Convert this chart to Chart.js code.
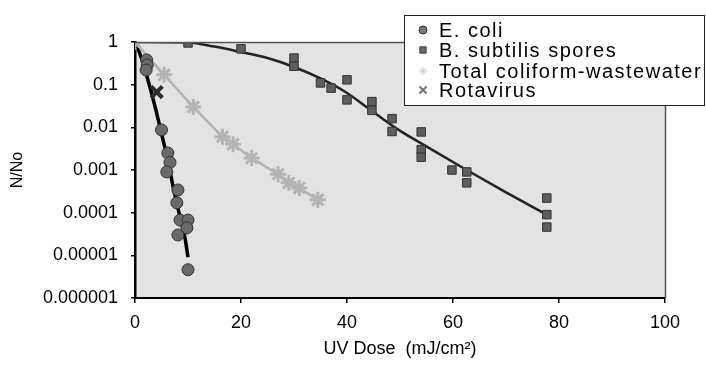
<!DOCTYPE html>
<html>
<head>
<meta charset="utf-8">
<script src="https://cdn.jsdelivr.net/npm/chart.js@4/dist/chart.umd.min.js"></script>
<style>
  html, body { margin: 0; padding: 0; background: #fff; }
  #wrap { width: 706px; height: 365px; }
</style>
</head>
<body>
<div id="wrap"><canvas id="uvChart" width="706" height="365"></canvas></div>
<script>
// values
const ecoliDose = [2.2, 2.3, 2.1, 5, 6.2, 6.6, 6, 8.1, 7.9, 8.5, 10, 9.8, 8.1, 10];
const ecoliNNo = [0.38, 0.29, 0.22, 0.0087, 0.0025, 0.0015, 0.0009, 0.00034, 0.00017, 0.000067, 0.000067, 0.000044, 0.00003, 0.0000046];
const ecoliFitDose = [0, 1, 2, 3.8, 5.3, 6.3, 7.2, 8.3, 9.4, 10];
const ecoliFitNNo = [1, 0.5, 0.2, 0.03, 0.005, 0.0015, 0.0004, 0.0001, 0.000027, 0.000009];

const bsubDose = [10, 20, 30, 30, 35, 37, 40, 40, 44.7, 44.7, 48.5, 48.5, 54, 54, 54, 59.8, 62.6, 62.6, 77.7, 77.7, 77.7];
const bsubNNo = [0.95, 0.69, 0.42, 0.27, 0.11, 0.083, 0.13, 0.044, 0.04, 0.025, 0.016, 0.008, 0.0078, 0.003, 0.002, 0.001, 0.0009, 0.0005, 0.00022, 0.00009, 0.000046];
const bsubFitDose = [0, 10, 15, 20, 25, 30, 35, 40, 44, 49, 54, 62, 70, 78];
const bsubFitNNo = [1, 0.97, 0.78, 0.58, 0.42, 0.26, 0.14, 0.064, 0.028, 0.01, 0.0042, 0.0011, 0.0003, 0.000085];

const coliformDose = [0, 5.5, 11, 16.5, 18.5, 22, 27, 29, 31, 34.5];
const coliformNNo = [1, 0.17, 0.03, 0.006, 0.004, 0.0019, 0.0008, 0.0005, 0.00038, 0.0002];

const rotaDose = [4.1];
const rotaNNo = [0.067];

const yTicks = [1, 0.1, 0.01, 0.001, 0.0001, 0.00001, 0.000001];
const yTickLabels = ["1", "0.1", "0.01", "0.001", "0.0001", "0.00001", "0.000001"];

const seriesNames = ["E. coli", "B. subtilis spores", "Total coliform-wastewater", "Rotavirus"];

const pts = (xs, ys) => xs.map((x, i) => ({ x, y: ys[i] }));
const FONT = "'Liberation Sans', Arial, sans-serif";

const plotBack = {
  id: "plotBack",
  beforeDraw(chart) {
    const { ctx, chartArea: a } = chart;
    ctx.save();
    ctx.fillStyle = "#e3e3e3";
    ctx.fillRect(a.left, a.top, a.right - a.left, a.bottom - a.top);
    ctx.restore();
  },
  afterDraw(chart) {
    const { ctx, chartArea: a } = chart;
    ctx.save();
    ctx.strokeStyle = "#555";
    ctx.lineWidth = 1.5;
    ctx.beginPath();
    ctx.moveTo(a.left, a.top + 0.5);
    ctx.lineTo(a.right + 0.5, a.top + 0.5);
    ctx.lineTo(a.right + 0.5, a.bottom);
    ctx.stroke();

    // legend box, drawn over the plot like the original
    const bx = 404.5, by = 15.5, bw = 300, bh = 90;
    ctx.fillStyle = "#fff";
    ctx.fillRect(bx, by, bw, bh);
    ctx.strokeStyle = "#222";
    ctx.lineWidth = 1;
    ctx.strokeRect(bx, by, bw, bh);
    const rowY = [30, 50, 71, 90];
    const marks = [
      { pointStyle: "circle", radius: 4, rotation: 0, borderWidth: 1, fill: "#777", stroke: "#333" },
      { pointStyle: "rect", radius: 4.5, rotation: 0, borderWidth: 1, fill: "#666", stroke: "#444" },
      { pointStyle: "star", radius: 4, rotation: 0, borderWidth: 1, fill: "#eee", stroke: "#ccc" },
      { pointStyle: "crossRot", radius: 5, rotation: 0, borderWidth: 2, fill: "#888", stroke: "#777" }
    ];
    ctx.font = "20px " + FONT;
    ctx.textBaseline = "middle";
    ctx.textAlign = "left";
    if ("letterSpacing" in ctx) ctx.letterSpacing = "1.5px";
    seriesNames.forEach((name, i) => {
      const m = marks[i];
      ctx.fillStyle = m.fill;
      ctx.strokeStyle = m.stroke;
      ctx.lineWidth = m.borderWidth;
      Chart.helpers.drawPoint(ctx, m, 423, rowY[i]);
      ctx.fillStyle = "#000";
      ctx.fillText(name, 439, rowY[i] + 1);
    });
    ctx.restore();
  }
};

new Chart(document.getElementById("uvChart"), {
  type: "scatter",
  data: {
    datasets: [
      { label: seriesNames[3], data: pts(rotaDose, rotaNNo), pointStyle: "crossRot",
        pointRadius: 8, pointBorderWidth: 4, borderColor: "#2a2a2a", backgroundColor: "#2a2a2a", order: 1 },
      { label: seriesNames[0], data: pts(ecoliDose, ecoliNNo), pointStyle: "circle",
        pointRadius: 6, pointBorderWidth: 1, borderColor: "#333", backgroundColor: "#6a6a6a", order: 2 },
      { label: seriesNames[1], data: pts(bsubDose, bsubNNo), pointStyle: "rect",
        pointRadius: 6, pointBorderWidth: 1, borderColor: "#333", backgroundColor: "#5e5e5e", order: 3 },
      { label: seriesNames[2], data: pts(coliformDose, coliformNNo), pointStyle: "star",
        showLine: true, borderWidth: 2.5, pointRadius: 8, pointBorderWidth: 3,
        borderColor: "#b4b4b4", backgroundColor: "#b4b4b4", order: 4 },
      { label: "E. coli fit", data: pts(ecoliFitDose, ecoliFitNNo), showLine: true,
        pointRadius: 0, borderColor: "#000", borderWidth: 3.5, cubicInterpolationMode: "monotone", order: 5 },
      { label: "B. subtilis fit", data: pts(bsubFitDose, bsubFitNNo), showLine: true,
        pointRadius: 0, borderColor: "#222", borderWidth: 2.5, cubicInterpolationMode: "monotone", order: 6 }
    ]
  },
  options: {
    responsive: false,
    animation: false,
    devicePixelRatio: 1,
    layout: { padding: { top: 42, right: 41, left: 0, bottom: 0 } },
    plugins: { legend: { display: false }, tooltip: { enabled: false } },
    scales: {
      x: {
        type: "linear", min: 0, max: 100,
        afterFit: s => { s.height = 67; },
        ticks: { stepSize: 20, color: "#000", padding: 9, font: { family: FONT, size: 18 } },
        grid: { drawOnChartArea: false, color: "#000", tickLength: 5, lineWidth: 1.5 },
        border: { color: "#000", width: 2 },
        title: { display: true, text: "UV Dose  (mJ/cm²)", color: "#000",
                 font: { family: FONT, size: 18 }, padding: { top: 0, bottom: 5 } }
      },
      y: {
        type: "logarithmic", min: 0.000001, max: 1,
        afterFit: s => { s.width = 135; },
        afterBuildTicks: s => { s.ticks = yTicks.map(v => ({ value: v })); },
        ticks: {
          color: "#000", padding: 13, font: { family: FONT, size: 18 },
          callback: v => yTickLabels[yTicks.findIndex(t => Math.abs(Math.log10(t) - Math.log10(v)) < 1e-6)]
        },
        grid: { drawOnChartArea: false, color: "#000", tickLength: 4, lineWidth: 1.5 },
        border: { color: "#000", width: 2.5 },
        title: { display: true, text: "N/No", color: "#000",
                 font: { family: FONT, size: 16 }, padding: { top: 8, bottom: 0 } }
      }
    }
  },
  plugins: [plotBack]
});
</script>
</body>
</html>
